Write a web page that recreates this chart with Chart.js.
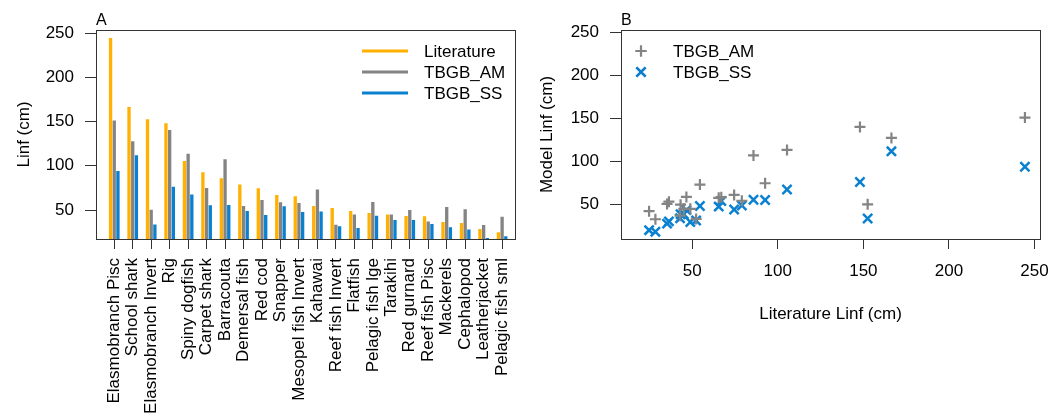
<!DOCTYPE html>
<html>
<head>
<meta charset="utf-8">
<title>Linf comparison</title>
<script src="https://cdn.jsdelivr.net/npm/chart.js@4.4.1/dist/chart.umd.min.js"></script>
<style>
  body { margin: 0; background: #fff; }
  .panel { position: absolute; top: 0; width: 532px; height: 419px; }
</style>
</head>
<body>
<div class="panel" style="left:0"><canvas id="chartA"></canvas></div>
<div class="panel" style="left:532px"><canvas id="chartB"></canvas></div>
<script>
// functional groups, ordered by literature Linf
var groups = ['Elasmobranch Pisc', 'School shark', 'Elasmobranch Invert', 'Rig', 'Spiny dogfish',
  'Carpet shark', 'Barracouta', 'Demersal fish', 'Red cod', 'Snapper', 'Mesopel fish Invert',
  'Kahawai', 'Reef fish Invert', 'Flatfish', 'Pelagic fish lge', 'Tarakihi', 'Red gurnard',
  'Reef fish Pisc', 'Mackerels', 'Cephalopod', 'Leatherjacket', 'Pelagic fish sml'];

// Linf (cm) from literature and from the two model fits
var litLinf = [244.4, 166.4, 152.5, 148, 105.4, 92.6, 85.8, 79, 74.5, 67, 65.5,
  54.5, 52.3, 48.9, 46.6, 45.1, 43.2, 42.9, 36.4, 35.3, 28.5, 24.8];
var amLinf = [151.3, 127.6, 50.4, 140.4, 113.6, 74.9, 107.3, 54.5, 61.3, 58.7, 57.9,
  73.3, 33.4, 45.1, 59, 45.1, 50, 37.2, 53.4, 50.8, 33, 42.4];
var ssLinf = [94, 112, 33.8, 76.3, 67.7, 55.3, 55.6, 48.9, 44.4, 54.2, 47.7,
  48.5, 31.6, 29.7, 43.6, 38.7, 38.7, 34.2, 30.5, 27.9, 18.4, 20.3];

var seriesNames = ['Literature', 'TBGB_AM', 'TBGB_SS'];
var seriesColors = ['#FFB000', '#848484', '#0A80D0'];
var linfTicks = [50, 100, 150, 200, 250];

var fontFam = '"Liberation Sans", Arial, sans-serif';
Chart.defaults.font.family = fontFam;
Chart.defaults.font.size = 17;
Chart.defaults.color = '#000';

var lineCol = '#333';

// frame round the plot area plus panel letter
var framePlugin = {
  id: 'frame',
  afterDraw: function(chart) {
    var a = chart.chartArea, ctx = chart.ctx;
    ctx.save();
    ctx.strokeStyle = lineCol;
    ctx.lineWidth = 1;
    ctx.strokeRect(Math.round(a.left) + 0.5, Math.round(a.top) + 0.5,
      Math.round(a.right - a.left), Math.round(a.bottom - a.top));
    ctx.fillStyle = '#000';
    ctx.font = '16px ' + fontFam;
    ctx.textBaseline = 'alphabetic';
    ctx.textAlign = 'left';
    ctx.fillText(chart.options.panelLetter, a.left, a.top - 5);
    ctx.restore();
  }
};

function toPoints(xs, ys) {
  return xs.map(function(x, i) { return { x: x, y: ys[i] }; });
}

function groupPoints(vals) {
  return vals.map(function(v, i) { return { x: i + 1, y: v }; });
}

function yScale(minV, maxV, width, titlePad) {
  return {
    min: minV,
    max: maxV,
    afterBuildTicks: function(s) { s.ticks = linfTicks.map(function(v) { return { value: v }; }); },
    afterFit: function(s) { s.width = width; },
    border: { display: false },
    grid: { drawOnChartArea: false, drawTicks: true, tickLength: 11, tickColor: lineCol },
    ticks: { padding: 11 },
    title: { display: true, padding: { top: titlePad, bottom: 0 } }
  };
}

// ---- panel A: grouped bars ----
var yA = yScale(17.3, 253.4, 96, 14);
yA.title.text = 'Linf (cm)';

var chartA = new Chart(document.getElementById('chartA'), {
  type: 'bar',
  data: {
    datasets: [litLinf, amLinf, ssLinf].map(function(vals, k) {
      return {
        label: seriesNames[k],
        data: groupPoints(vals),
        backgroundColor: seriesColors[k],
        borderWidth: 0,
        categoryPercentage: 0.6,
        barPercentage: 0.9
      };
    })
  },
  options: {
    panelLetter: 'A',
    animation: false,
    responsive: true,
    maintainAspectRatio: false,
    layout: { padding: { top: 30, right: 16, left: 0, bottom: 0 } },
    scales: {
      x: {
        type: 'linear',
        min: 0.012,
        max: 22.69,
        offset: false,
        afterBuildTicks: function(s) { s.ticks = groups.map(function(g, i) { return { value: i + 1 }; }); },
        afterFit: function(s) { s.height = 180; },
        border: { display: false },
        grid: { offset: false, drawOnChartArea: false, drawTicks: true, tickLength: 10, tickColor: lineCol },
        ticks: {
          autoSkip: false,
          minRotation: 90,
          maxRotation: 90,
          padding: 9,
          callback: function(v) { return groups[v - 1]; }
        }
      },
      y: yA
    },
    plugins: {
      legend: { display: false },
      tooltip: { enabled: false }
    }
  },
  plugins: [framePlugin, {
    id: 'lineLegend',
    afterDraw: function(chart) {
      var ctx = chart.ctx;
      ctx.save();
      ctx.font = '17px ' + fontFam;
      ctx.textBaseline = 'middle';
      ctx.textAlign = 'left';
      for (var k = 0; k < seriesNames.length; k++) {
        var y = 51 + k * 21;
        ctx.strokeStyle = seriesColors[k];
        ctx.lineWidth = 3;
        ctx.beginPath();
        ctx.moveTo(362, y);
        ctx.lineTo(408, y);
        ctx.stroke();
        ctx.fillStyle = '#000';
        ctx.fillText(seriesNames[k], 424, y + 1);
      }
      ctx.restore();
    }
  }]
});

// ---- panel B: model vs literature ----
var yB = yScale(10, 253.2, 89, 5);
yB.title.text = 'Model Linf (cm)';

var chartB = new Chart(document.getElementById('chartB'), {
  type: 'scatter',
  data: {
    datasets: [
      {
        label: 'TBGB_AM',
        data: toPoints(litLinf, amLinf),
        pointStyle: 'cross',
        radius: 5.5,
        borderWidth: 2.2,
        borderColor: seriesColors[1],
        backgroundColor: seriesColors[1]
      },
      {
        label: 'TBGB_SS',
        data: toPoints(litLinf, ssLinf),
        pointStyle: 'crossRot',
        radius: 6.5,
        borderWidth: 2.5,
        borderColor: seriesColors[2],
        backgroundColor: seriesColors[2]
      }
    ]
  },
  options: {
    panelLetter: 'B',
    animation: false,
    responsive: true,
    maintainAspectRatio: false,
    layout: { padding: { top: 30, right: 24, left: 0, bottom: 0 } },
    scales: {
      x: {
        type: 'linear',
        min: 8.4,
        max: 253.2,
        afterBuildTicks: function(s) { s.ticks = linfTicks.map(function(v) { return { value: v }; }); },
        afterFit: function(s) { s.height = 180; },
        border: { display: false },
        grid: { drawOnChartArea: false, drawTicks: true, tickLength: 10, tickColor: lineCol },
        ticks: { padding: 12 },
        title: { display: true, text: 'Literature Linf (cm)', padding: { top: 0, bottom: 94 } }
      },
      y: yB
    },
    plugins: {
      legend: { display: false },
      tooltip: { enabled: false }
    }
  },
  plugins: [framePlugin, {
    id: 'markerLegend',
    afterDraw: function(chart) {
      var ctx = chart.ctx;
      var sets = chart.data.datasets;
      ctx.save();
      ctx.font = '17px ' + fontFam;
      ctx.textBaseline = 'middle';
      ctx.textAlign = 'left';
      for (var k = 0; k < sets.length; k++) {
        var y = 51 + k * 21;
        Chart.helpers.drawPoint(ctx, {
          pointStyle: sets[k].pointStyle,
          radius: sets[k].radius,
          borderWidth: sets[k].borderWidth,
          rotation: 0
        }, 109, y);
        ctx.strokeStyle = sets[k].borderColor;
        ctx.lineWidth = sets[k].borderWidth;
        ctx.stroke();
        ctx.fillStyle = '#000';
        ctx.fillText(sets[k].label, 141, y + 1);
      }
      ctx.restore();
    }
  }]
});
</script>
</body>
</html>
